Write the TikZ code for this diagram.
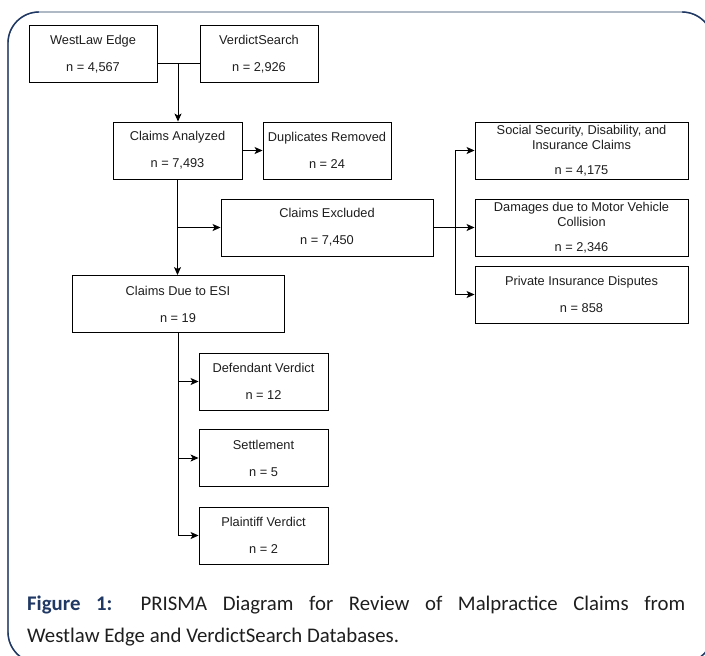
\documentclass[tikz,border=0pt]{standalone}
\usepackage{fontspec}
\setmainfont{Liberation Sans}
\newfontfamily\capfont{Carlito}
\usetikzlibrary{arrows.meta,calc}
\definecolor{navy}{RGB}{31,56,100}
\definecolor{framegray}{RGB}{132,148,168}
\definecolor{txt}{RGB}{30,30,30}
\begin{document}
\begin{tikzpicture}[x=1pt,y=-1pt,
  box/.style={draw=black,line width=0.9pt,fill=white,align=center,inner sep=0pt,
    minimum height=57pt,font=\fontsize{12.8}{15}\selectfont,text=txt},
  arr/.style={line width=0.9pt,-{Stealth[length=8pt,width=7pt,inset=2pt]}},
  ln/.style={line width=0.9pt}]
\useasboundingbox (0,0) rectangle (705,656);
% frame
\draw[framegray,line width=1.4pt,rounded corners=31pt] (8,12) rectangle (713,663);
\draw[navy,line width=1.4pt] (8,632) -- (8,43) arc[start angle=180,end angle=270,radius=31];
\draw[navy,line width=1.4pt] (682,12) arc[start angle=270,end angle=360,radius=31];
\draw[navy,line width=1.4pt] (8,632) arc[start angle=180,end angle=90,radius=31];
\draw[navy,line width=1.4pt] (713,632) arc[start angle=0,end angle=90,radius=31];
% nodes
\node[box,minimum width=128pt] (wl) at (93,54) {WestLaw Edge\\[12pt]n = 4,567};
\node[box,minimum width=118pt] (vs) at (259,54) {VerdictSearch\\[12pt]n = 2,926};
\node[box,minimum width=129pt] (ca) at (177.5,150.5) {Claims Analyzed\\[12pt]n = 7,493};
\node[box,minimum width=128pt] (dr) at (327,150.5) {Duplicates Removed\\[12pt]n = 24};
\node[box,minimum width=212pt] (ce) at (327,227.5) {Claims Excluded\\[12pt]n = 7,450};
\node[box,minimum width=213pt] (ss) at (581.5,150.5) {Social Security, Disability, and\\Insurance Claims\\[10pt]n = 4,175};
\node[box,minimum width=213pt] (dm) at (581.5,227.5) {Damages due to Motor Vehicle\\Collision\\[10pt]n = 2,346};
\node[box,minimum width=213pt] (pi) at (581.5,294.5) {Private Insurance Disputes\\[12pt]n = 858};
\node[box,minimum width=212pt] (esi) at (178,304) {Claims Due to ESI\\[12pt]n = 19};
\node[box,minimum width=129pt] (dv) at (263.5,381.5) {Defendant Verdict\\[12pt]n = 12};
\node[box,minimum width=129pt] (st) at (263.5,458) {Settlement\\[12pt]n = 5};
\node[box,minimum width=129pt] (pv) at (263.5,535.5) {Plaintiff Verdict\\[12pt]n = 2};
% connectors
\coordinate (j1) at (178,63);
\coordinate (j2) at (455,227.5);
\draw[ln] (wl.east|-j1) -- (vs.west|-j1);
\draw[arr] (j1) -- (j1|-ca.north);
\draw[arr] (ca.east) -- (dr.west);
\draw[arr] (ca.south) -- (ca.south|-esi.north);
\draw[arr] (ca.south|-ce.west) -- (ce.west);
\draw[ln] (ce.east) -- (j2);
\draw[arr] (j2) |- (ss.west);
\draw[arr] (j2) -- (dm.west);
\draw[arr] (j2) |- (pi.west);
\draw[arr] (esi.south) |- (dv.west);
\draw[arr] (esi.south) |- (st.west);
\draw[arr] (esi.south) |- (pv.west);
% caption
\node[anchor=base west,inner sep=0pt,font=\capfont\fontsize{20.8}{25}\selectfont,text=txt] (cap1) at (27,610)
  {\makebox[658pt][s]{\textcolor{navy}{\textbf{Figure 1:}} PRISMA Diagram for Review of Malpractice Claims from}};
\node[anchor=base west,inner sep=0pt,font=\capfont\fontsize{20.8}{25}\selectfont,text=txt] (cap2) at (27,642)
  {Westlaw Edge and VerdictSearch Databases.};
\end{tikzpicture}
\end{document}
